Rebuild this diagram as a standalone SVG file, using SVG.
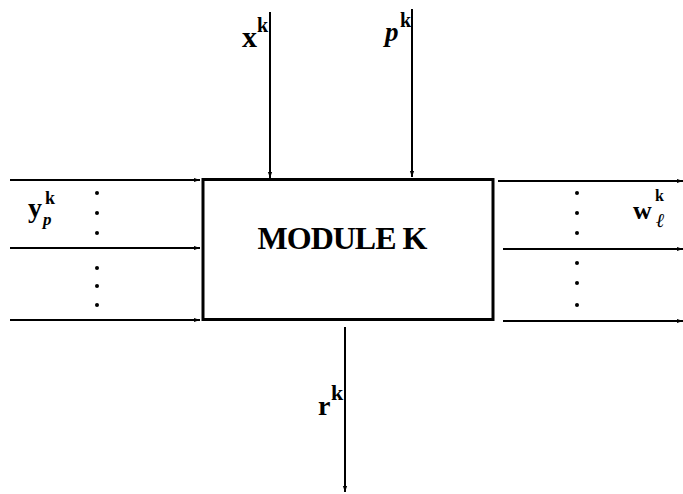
<svg xmlns="http://www.w3.org/2000/svg" width="683" height="494" viewBox="0 0 683 494">
<defs>
<marker id="ah" viewBox="0 0 10 10" refX="10" refY="5" markerWidth="6" markerHeight="6" markerUnits="userSpaceOnUse" orient="auto">
<path d="M0,1.5 L10,5 L0,8.5 Z" fill="#000"/>
</marker>
<style>
.ln{stroke:#000;stroke-width:2;fill:none}
.lbl{font-family:"Liberation Serif",serif;font-weight:bold;fill:#000}
.dot{fill:#000}
</style>
</defs>
<rect width="683" height="494" fill="#fff"/>
<g id="connectors">
<line class="ln" x1="270" y1="12" x2="270" y2="178" marker-end="url(#ah)"/>
<line class="ln" x1="412" y1="9" x2="412" y2="177" marker-end="url(#ah)"/>
<line class="ln" x1="10" y1="180" x2="200" y2="180" marker-end="url(#ah)"/>
<line class="ln" x1="10" y1="248" x2="200" y2="248" marker-end="url(#ah)"/>
<line class="ln" x1="10" y1="320" x2="200" y2="320" marker-end="url(#ah)"/>
<line class="ln" x1="498" y1="181" x2="683" y2="181" marker-end="url(#ah)"/>
<line class="ln" x1="503" y1="249" x2="683" y2="249" marker-end="url(#ah)"/>
<line class="ln" x1="503" y1="321" x2="683" y2="321" marker-end="url(#ah)"/>
<line class="ln" x1="345" y1="327" x2="345" y2="492" marker-end="url(#ah)"/>
</g>
<g id="module-k">
<rect x="203" y="179.5" width="290" height="140" fill="none" stroke="#000" stroke-width="3"/>
<text class="lbl" x="342" y="249" font-size="32" text-anchor="middle" letter-spacing="-1">MODULE K</text>
</g>
<g id="left-dots">
<circle class="dot" cx="97" cy="193" r="2"/>
<circle class="dot" cx="97" cy="213" r="2"/>
<circle class="dot" cx="97" cy="233" r="2"/>
<circle class="dot" cx="97" cy="268" r="2"/>
<circle class="dot" cx="97" cy="286" r="2"/>
<circle class="dot" cx="97" cy="305" r="2"/>
</g>
<g id="right-dots">
<circle class="dot" cx="577" cy="193" r="2"/>
<circle class="dot" cx="577" cy="213" r="2"/>
<circle class="dot" cx="577" cy="233" r="2"/>
<circle class="dot" cx="577" cy="263" r="2"/>
<circle class="dot" cx="577" cy="283" r="2"/>
<circle class="dot" cx="577" cy="305" r="2"/>
</g>
<g id="label-x">
<text class="lbl" x="242" y="47" font-size="30">x</text>
<text class="lbl" x="257" y="32" font-size="20">k</text>
</g>
<g id="label-p">
<text class="lbl" x="385" y="41" font-size="27" font-style="italic">p</text>
<text class="lbl" x="400" y="27" font-size="20">k</text>
</g>
<g id="label-y">
<text class="lbl" x="28" y="217" font-size="28">y</text>
<text class="lbl" x="45" y="204" font-size="18">k</text>
<text class="lbl" x="43" y="225" font-size="17" font-style="italic">p</text>
</g>
<g id="label-w">
<text class="lbl" x="633" y="219" font-size="26">w</text>
<text class="lbl" x="655" y="201" font-size="16">k</text>
<text class="lbl" x="656" y="227" font-size="20" font-style="italic">ℓ</text>
</g>
<g id="label-r">
<text class="lbl" x="318" y="415" font-size="28">r</text>
<text class="lbl" x="331" y="400" font-size="22">k</text>
</g>
</svg>
